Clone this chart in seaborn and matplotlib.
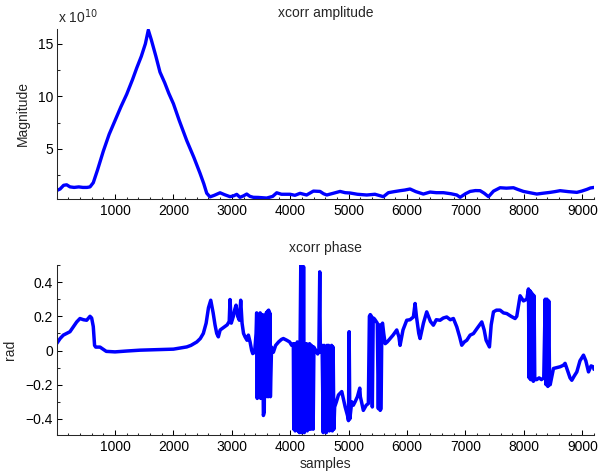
import matplotlib
matplotlib.use("Agg")
import matplotlib.pyplot as plt
import seaborn as sns
import pandas as pd
from matplotlib.ticker import FixedLocator, MultipleLocator

# ---------------- data ----------------
amp_x = [0, 60, 120, 172, 230, 300, 380, 450, 520, 572,
         628, 700, 800, 900, 1000, 1100, 1200, 1300, 1372, 1450,
         1520, 1570, 1620, 1700, 1770, 1850, 1920, 2000, 2100, 2228,
         2350, 2455, 2520, 2570, 2626, 2700, 2798, 2880, 2969, 3030,
         3084, 3140, 3200, 3255, 3310, 3368, 3450, 3597, 3700, 3768,
         3850, 3997, 4080, 4168, 4280, 4396, 4510, 4570, 4625, 4740,
         4853, 4940, 5024, 5150, 5309, 5450, 5594, 5680, 5780, 5880,
         5960, 6051, 6150, 6279, 6394, 6500, 6622, 6750, 6851, 6908,
         7000, 7079, 7170, 7250, 7320, 7394, 7480, 7592, 7700, 7821,
         7900, 7992, 8100, 8221, 8330, 8449, 8530, 8620, 8760, 8906,
         8990, 9077, 9140, 9200]
amp_y = [1.05, 1.2, 1.55, 1.6, 1.4, 1.35, 1.4, 1.35, 1.35, 1.4,
         1.8, 3.0, 4.8, 6.4, 7.7, 9.0, 10.2, 11.6, 12.7, 13.8,
         15.0, 16.3, 15.4, 13.8, 12.3, 11.3, 10.3, 9.3, 7.7, 5.8,
         4.2, 2.7, 1.7, 0.8, 0.45, 0.6, 0.84, 0.65, 0.47, 0.55,
         0.69, 0.41, 0.55, 0.72, 0.5, 0.41, 0.4, 0.34, 0.5, 0.84,
         0.7, 0.7, 0.6, 0.79, 0.63, 1.0, 0.97, 0.75, 0.63, 0.8,
         0.97, 0.85, 0.82, 0.7, 0.63, 0.7, 0.47, 0.85, 0.95, 1.04,
         1.1, 1.2, 0.95, 0.72, 0.91, 0.85, 0.85, 0.75, 0.63, 0.41,
         0.75, 0.97, 1.05, 1.04, 0.8, 0.47, 1.0, 1.32, 1.28, 1.32,
         1.15, 0.97, 0.85, 0.72, 0.8, 0.88, 0.95, 1.04, 0.95, 0.88,
         1.0, 1.16, 1.3, 1.35]

phase_x = [0, 60, 115, 170, 229, 290, 344, 400, 460, 515,
           572, 600, 628, 650, 670, 743, 850, 1000, 1200, 1428,
           1700, 2000, 2228, 2300, 2400, 2460, 2512, 2560, 2600, 2639,
           2680, 2712, 2741, 2769, 2800, 2855, 2920, 2955, 2969, 2990,
           3026, 3050, 3072, 3100, 3129, 3152, 3175, 3200, 3226, 3260,
           3283, 3312, 3340, 3358, 3390, 3415,
           3425, 3435, 3445, 3455, 3465, 3475, 3485, 3495, 3505, 3515,
           3525, 3540, 3555, 3565,
           3580, 3590, 3600, 3610, 3620, 3630, 3640, 3650, 3660, 3680,
           3711, 3750, 3800, 3850, 3882, 3940, 3990, 4025, 4053,
           4060, 4072, 4084, 4096, 4108, 4120, 4132, 4144, 4156, 4168,
           4180, 4192, 4204, 4216, 4228, 4240, 4252,
           4265, 4278, 4291, 4304, 4317, 4330, 4340,
           4350, 4362, 4380, 4392, 4405, 4420, 4440, 4470, 4490, 4505,
           4515, 4530, 4545,
           4565, 4578, 4591, 4604, 4617, 4630, 4643, 4656, 4669, 4682,
           4695, 4708, 4721, 4734, 4747, 4760,
           4790, 4825, 4882, 4940, 4980, 4997, 5008, 5020, 5053, 5080,
           5110, 5150, 5190, 5200, 5220, 5251, 5300, 5337, 5355,
           5370, 5390, 5405, 5420, 5435, 5451, 5470, 5490, 5508, 5525,
           5540, 5555, 5568,
           5580, 5600, 5625, 5660, 5709, 5760, 5823, 5860, 5880, 5930,
           5994, 6050, 6108, 6137, 6160, 6200, 6222, 6280, 6336, 6400,
           6450, 6500, 6565, 6620, 6679, 6740, 6793, 6851, 6900, 6936,
           6980, 7022, 7080, 7136, 7200, 7279, 7320, 7353, 7410, 7440,
           7479, 7530, 7592, 7650, 7707, 7780, 7849, 7878, 7935, 7992,
           8050, 8078,
           8090, 8102, 8114, 8126, 8138, 8150, 8162, 8174, 8186,
           8220, 8260, 8300, 8340, 8365, 8380, 8395, 8410, 8425, 8440,
           8450,
           8506, 8560, 8620, 8677, 8705, 8750, 8790, 8820, 8860, 8906,
           8960, 9020, 9060, 9106, 9150, 9192, 9200]
phase_y = [0.04, 0.07, 0.09, 0.1, 0.11, 0.14, 0.167, 0.187, 0.18, 0.177,
           0.2, 0.19, 0.14, 0.03, 0.02, 0.02, -0.005, -0.008, -0.003, 0.002,
           0.005, 0.008, 0.021, 0.03, 0.05, 0.07, 0.1, 0.16, 0.25, 0.294,
           0.22, 0.15, 0.1, 0.08, 0.12, 0.134, 0.15, 0.17, 0.298, 0.16,
           0.2, 0.24, 0.265, 0.2, 0.177, 0.294, 0.16, 0.1, 0.08, 0.06,
           0.09, 0.05, 0.0, -0.018, -0.01, 0.1,
           0.22, -0.28, 0.2, -0.27, 0.21, -0.2, 0.22, -0.28, 0.2, -0.25,
           0.21, -0.38, -0.36, 0.2,
           -0.27, 0.22, -0.25, 0.23, -0.27, 0.236, -0.26, 0.22, -0.27, 0.02,
           -0.01, 0.03, 0.05, 0.065, 0.07, 0.06, 0.05, 0.03, 0.04,
           -0.46, 0.04, -0.47, 0.03, -0.45, 0.05, -0.47, 0.04, -0.48, 0.05,
           0.5, -0.48, 0.5, -0.47, 0.49, -0.48, 0.04,
           -0.46, 0.04, -0.47, 0.03, -0.46, 0.04, 0.03,
           -0.46, 0.03, 0.02, -0.46, 0.02, 0.01, 0.0, -0.02, 0.0, 0.46,
           -0.01, 0.0, 0.03,
           -0.48, 0.03, -0.47, 0.02, -0.48, 0.03, -0.46, 0.03, -0.47, 0.02,
           -0.46, 0.03, -0.47, 0.02, -0.46, -0.33,
           -0.3, -0.26, -0.24, -0.33, -0.38, -0.41, 0.11, -0.4, -0.3, -0.32,
           -0.3, -0.27, -0.22, -0.27, -0.3, -0.35, -0.32, -0.31, 0.2,
           0.21, 0.2, -0.33, 0.19, 0.187, 0.18, 0.17, 0.16, -0.34, 0.15,
           -0.35, -0.34, 0.15,
           0.16, 0.1, 0.04, 0.05, 0.07, 0.09, 0.12, 0.08, 0.03, 0.12,
           0.177, 0.18, 0.196, 0.275, 0.2, 0.1, 0.07, 0.16, 0.226, 0.17,
           0.148, 0.18, 0.177, 0.19, 0.196, 0.18, 0.187, 0.138, 0.08, 0.031,
           0.05, 0.06, 0.09, 0.099, 0.13, 0.167, 0.12, 0.06, 0.021, 0.15,
           0.226, 0.236, 0.236, 0.22, 0.216, 0.2, 0.187, 0.2, 0.32, 0.29,
           0.3, 0.36,
           -0.16, 0.35, -0.17, 0.34, -0.17, 0.33, -0.18, 0.32, -0.17,
           -0.17, -0.16, -0.17, -0.16, 0.3, -0.2, 0.3, -0.21, 0.29, -0.2,
           -0.2,
           -0.105, -0.1, -0.095, -0.086, -0.075, -0.12, -0.16, -0.174, -0.15, -0.125,
           -0.06, -0.027, -0.06, -0.125, -0.09, -0.096, -0.11]

x_ticks = [1000, 2000, 3000, 4000, 5000, 6000, 7000, 8000, 9000]
amp_ticks = [5, 10, 15]
phase_ticks = [-0.4, -0.2, 0, 0.2, 0.4]
phase_tick_labels = ["\u22120.4", "\u22120.2", "0", "0.2", "0.4"]

amp_df = pd.DataFrame({"samples": amp_x, "Magnitude": amp_y})
phase_df = pd.DataFrame({"samples": phase_x, "rad": phase_y})

# ---------------- style ----------------
sns.set_style("ticks")
plt.rcParams["font.family"] = ["Liberation Sans", "DejaVu Sans"]
plt.rcParams["font.size"] = 10
plt.rcParams["axes.linewidth"] = 0.75

fig = plt.figure(figsize=(6.0, 4.73), dpi=100)
W, H = 600.0, 473.0
ax1 = fig.add_axes([56.6 / W, 1 - 199 / H, (594 - 56.6) / W, (199 - 29) / H])
ax2 = fig.add_axes([56.6 / W, 1 - 435 / H, (594 - 56.6) / W, (435 - 265) / H])

line_color = (0, 0, 1)
sns.lineplot(data=amp_df, x="samples", y="Magnitude", ax=ax1, color=line_color,
             linewidth=2.4, estimator=None, sort=False)
sns.lineplot(data=phase_df, x="samples", y="rad", ax=ax2, color=line_color,
             linewidth=2.5, estimator=None, sort=False)

for ax in (ax1, ax2):
    ax.set_xlim(0, 9200)
    ax.xaxis.set_major_locator(FixedLocator(x_ticks))
    ax.set_xticklabels([str(t) for t in x_ticks])
    ax.xaxis.set_minor_locator(MultipleLocator(200))
    sns.despine(ax=ax)
    ax.tick_params(which="major", direction="in", length=3.6, width=0.75,
                   labelsize=10, pad=3.5, colors="black")
    ax.tick_params(which="minor", direction="in", length=1.8, width=0.75)
    ax.tick_params(axis="y", pad=2.5)
    ax.set_facecolor("white")

ax1.set_ylim(0.25, 16.4)
ax1.yaxis.set_major_locator(FixedLocator(amp_ticks))
ax1.set_yticklabels([str(t) for t in amp_ticks])
ax1.yaxis.set_minor_locator(MultipleLocator(2.5))
ax1.set_xlabel("")
ax1.set_ylabel("Magnitude", fontsize=10)
ax1.yaxis.set_label_coords(-0.0495, 0.5)
ax1.set_title("xcorr amplitude", fontsize=10, pad=8.6)
ax1.text(0.002, 1.035, r"x 10$^{10}$", transform=ax1.transAxes, fontsize=10,
         ha="left", va="baseline")

ax2.set_ylim(-0.494, 0.5)
ax2.yaxis.set_major_locator(FixedLocator(phase_ticks))
ax2.set_yticklabels(phase_tick_labels)
ax2.yaxis.set_minor_locator(MultipleLocator(0.1))
ax2.set_xlabel("samples", fontsize=10, labelpad=2)
ax2.set_ylabel("rad", fontsize=10)
ax2.yaxis.set_label_coords(-0.0737, 0.5)
ax2.set_title("xcorr phase", fontsize=10, pad=9.4)

fig.savefig("out.png", dpi=100, facecolor="white")
